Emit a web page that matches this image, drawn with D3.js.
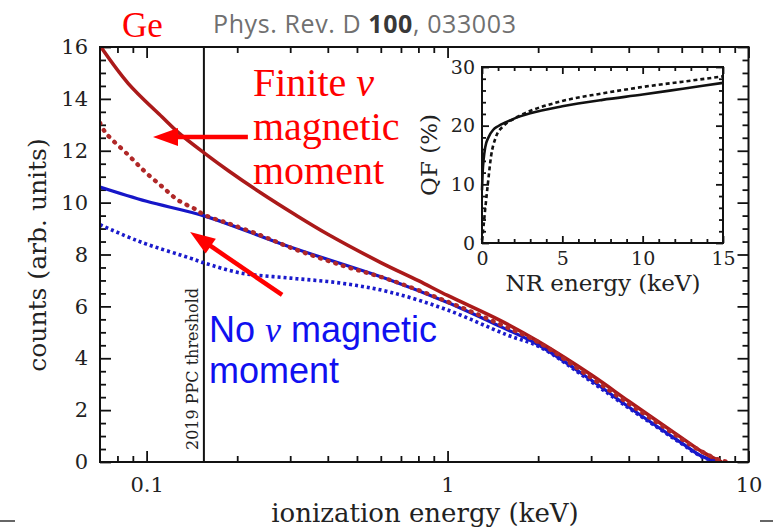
<!doctype html>
<html lang="en">
	<head>
		<meta charset="utf-8" />
		<title>Ge counts vs ionization energy</title>
		<script type="text/javascript" src="https://cdn.jsdelivr.net/npm/d3@7"></script>
		<style>
			body { margin: 0; background: #fff; }
			svg { display: block; }
		</style>
	</head>

	<body>
		<script type="text/javascript">
			// main panel: counts (arb. units) vs ionization energy (keV)
			var redSolidE = [0.07, 0.0868, 0.1126, 0.129, 0.156, 0.187, 0.24, 0.31, 0.4, 0.6, 0.8, 1.0, 1.5, 2, 3, 4, 5, 6, 7, 8, 8.15];
			var redSolidC = [16.05, 14.6, 13.3, 12.65, 11.9, 11.23, 10.37, 9.55, 8.78, 7.69, 6.99, 6.42, 5.45, 4.65, 3.36, 2.34, 1.56, 0.93, 0.4, 0.04, 0];

			var redDotE = [0.07, 0.073, 0.087, 0.099, 0.113, 0.127, 0.145, 0.156, 0.187, 0.242, 0.3, 0.44, 0.644, 1, 1.5, 2, 3, 4, 5, 6, 7, 8, 8.6];
			var redDotC = [13.07, 12.7, 11.83, 11.18, 10.6, 10.1, 9.75, 9.52, 9.2, 8.72, 8.27, 7.6, 7.02, 6.18, 5.3, 4.62, 3.25, 2.25, 1.5, 0.88, 0.4, 0.08, 0];

			var blueSolidE = [0.07, 0.1, 0.156, 0.3, 0.644, 1, 1.5, 2, 3, 4, 5, 6, 7, 7.9];
			var blueSolidC = [10.6, 10.05, 9.48, 8.29, 7.02, 6.15, 5.22, 4.52, 3.16, 2.12, 1.35, 0.73, 0.22, 0];

			var blueDotE = [0.07, 0.087, 0.1, 0.1395, 0.156, 0.2045, 0.3, 0.44, 0.644, 1, 1.576, 2.03, 3, 4, 5, 6, 7, 7.9];
			var blueDotC = [9.15, 8.67, 8.4, 7.86, 7.67, 7.29, 7.09, 6.9, 6.55, 5.86, 4.9, 4.43, 3.1, 2.08, 1.32, 0.7, 0.2, 0];

			var xMajor = [0.1, 1, 10];
			var xMinor = [0.08, 0.09, 0.2, 0.3, 0.4, 0.5, 0.6, 0.7, 0.8, 0.9, 2, 3, 4, 5, 6, 7, 8, 9];
			var yMajor = [0, 2, 4, 6, 8, 10, 12, 14, 16];
			var threshold = 0.155;

			// inset: quenching factor vs NR energy
			var qfSolidE = [0, 0.05, 0.1, 0.2, 0.4, 0.7, 1, 1.5, 2, 3, 5, 7.5, 10, 12.5, 15];
			var qfSolidV = [9, 12.5, 14.2, 16.3, 18, 19.3, 19.9, 20.6, 21.2, 22.1, 23.3, 24.4, 25.3, 26.3, 27.3];
			var qfDotE = [0, 0.1, 0.2, 0.37, 0.56, 0.87, 1.32, 2, 2.57, 5, 7.5, 10, 12.5, 15];
			var qfDotV = [0.5, 3, 5.8, 10.2, 14.7, 18.1, 19.9, 21.2, 22, 24.2, 25.5, 26.6, 27.5, 28.4];
			var qfXMajor = [0, 5, 10, 15];
			var qfYMajor = [0, 10, 20, 30];

			var w = 773;
			var h = 529;
			var serif = "DejaVu Serif";

			var svg = d3.select("body")
				.append("svg")
				.attr("width", w)
				.attr("height", h);

			var x = d3.scaleLog().domain([0.07, 10]).range([100, 748.5]);
			var y = d3.scaleLinear().domain([0, 16]).range([462, 47]);

			function zip(a, b) {
				return a.map(function(v, i) { return [v, b[i]]; });
			}

			svg.append("clipPath").attr("id", "plotclip")
				.append("rect")
				.attr("x", x.range()[0]).attr("y", y.range()[1])
				.attr("width", x.range()[1] - x.range()[0])
				.attr("height", y.range()[0] - y.range()[1]);

			// axes with inward ticks on all sides
			function styleAxis(g) {
				g.select(".domain").remove();
				g.selectAll("line").attr("stroke", "#111").attr("stroke-width", 1.8);
				g.selectAll("text").attr("font-family", serif).attr("fill", "#222");
			}

			var yMinor = d3.range(0, 16.01, 0.5).filter(function(v) { return v % 2 !== 0; });

			svg.append("g").attr("transform", "translate(0," + y(0) + ")")
				.call(d3.axisBottom(x).tickValues(xMajor).tickSize(-11).tickPadding(15)
					.tickFormat(function(d) { return d < 1 ? d.toFixed(1) : d; }))
				.call(styleAxis)
				.selectAll("text").attr("font-size", 21);
			svg.append("g").attr("transform", "translate(0," + y(0) + ")")
				.call(d3.axisBottom(x).tickValues(xMinor).tickSize(-6).tickFormat(""))
				.call(styleAxis);
			svg.append("g").attr("transform", "translate(0," + y(16) + ")")
				.call(d3.axisTop(x).tickValues(xMajor).tickSize(-11).tickFormat(""))
				.call(styleAxis);
			svg.append("g").attr("transform", "translate(0," + y(16) + ")")
				.call(d3.axisTop(x).tickValues(xMinor).tickSize(-6).tickFormat(""))
				.call(styleAxis);

			svg.append("g").attr("transform", "translate(" + x.range()[0] + ",0)")
				.call(d3.axisLeft(y).tickValues(yMajor).tickSize(-11).tickPadding(12))
				.call(styleAxis)
				.selectAll("text").attr("font-size", 21);
			svg.append("g").attr("transform", "translate(" + x.range()[0] + ",0)")
				.call(d3.axisLeft(y).tickValues(yMinor).tickSize(-6).tickFormat(""))
				.call(styleAxis);
			svg.append("g").attr("transform", "translate(" + x.range()[1] + ",0)")
				.call(d3.axisRight(y).tickValues(yMajor).tickSize(-11).tickFormat(""))
				.call(styleAxis);
			svg.append("g").attr("transform", "translate(" + x.range()[1] + ",0)")
				.call(d3.axisRight(y).tickValues(yMinor).tickSize(-6).tickFormat(""))
				.call(styleAxis);

			// threshold line
			svg.append("line")
				.attr("x1", x(threshold)).attr("x2", x(threshold))
				.attr("y1", y(16)).attr("y2", y(0))
				.attr("stroke", "#111").attr("stroke-width", 2);
			svg.append("text")
				.attr("transform", "translate(" + (x(threshold) - 6) + "," + (y(0) - 12) + ") rotate(-90)")
				.attr("font-family", serif).attr("font-size", 16).attr("fill", "#222")
				.text("2019 PPC threshold");

			// curves
			var line = d3.line()
				.x(function(d) { return x(d[0]); })
				.y(function(d) { return y(d[1]); })
				.curve(d3.curveCatmullRom.alpha(0.5));

			var curves = svg.append("g").attr("clip-path", "url(#plotclip)");
			curves.append("path").datum(zip(blueSolidE, blueSolidC))
				.attr("d", line).attr("fill", "none")
				.attr("stroke", "#1616c8").attr("stroke-width", 3.2);
			curves.append("path").datum(zip(redSolidE, redSolidC))
				.attr("d", line).attr("fill", "none")
				.attr("stroke", "#ab1a1a").attr("stroke-width", 3.6);
			curves.append("path").datum(zip(blueDotE, blueDotC))
				.attr("d", line).attr("fill", "none")
				.attr("stroke", "#1a1acc").attr("stroke-width", 3.6)
				.attr("stroke-dasharray", "3 3");
			curves.append("path").datum(zip(redDotE, redDotC))
				.attr("d", line).attr("fill", "none")
				.attr("stroke", "#b02828").attr("stroke-width", 4.4)
				.attr("stroke-linecap", "round")
				.attr("stroke-dasharray", "0.8 7.2");

			// frame
			svg.append("rect")
				.attr("x", x.range()[0]).attr("y", y.range()[1])
				.attr("width", x.range()[1] - x.range()[0])
				.attr("height", y.range()[0] - y.range()[1])
				.attr("fill", "none").attr("stroke", "#111").attr("stroke-width", 2);

			// axis titles
			svg.append("text")
				.attr("transform", "translate(46,255) rotate(-90)")
				.attr("text-anchor", "middle")
				.attr("font-family", serif).attr("font-size", 25).attr("fill", "#222")
				.text("counts (arb. units)");
			svg.append("text")
				.attr("x", 425).attr("y", 522)
				.attr("text-anchor", "middle")
				.attr("font-family", serif).attr("font-size", 26).attr("fill", "#222")
				.text("ionization energy (keV)");

			// inset
			var xi = d3.scaleLinear().domain([0, 15]).range([482, 723]);
			var yi = d3.scaleLinear().domain([0, 30]).range([243, 67]);
			var qfXMinor = d3.range(0, 16).filter(function(v) { return v % 5 !== 0; });
			var qfYMinor = d3.range(0, 31, 2).filter(function(v) { return v % 10 !== 0; });

			svg.append("g").attr("transform", "translate(0," + yi(0) + ")")
				.call(d3.axisBottom(xi).tickValues(qfXMajor).tickSize(-7).tickPadding(9))
				.call(styleAxis)
				.selectAll("text").attr("font-size", 19);
			svg.append("g").attr("transform", "translate(0," + yi(0) + ")")
				.call(d3.axisBottom(xi).tickValues(qfXMinor).tickSize(-4).tickFormat(""))
				.call(styleAxis);
			svg.append("g").attr("transform", "translate(0," + yi(30) + ")")
				.call(d3.axisTop(xi).tickValues(qfXMajor).tickSize(-7).tickFormat(""))
				.call(styleAxis);
			svg.append("g").attr("transform", "translate(0," + yi(30) + ")")
				.call(d3.axisTop(xi).tickValues(qfXMinor).tickSize(-4).tickFormat(""))
				.call(styleAxis);
			svg.append("g").attr("transform", "translate(" + xi(0) + ",0)")
				.call(d3.axisLeft(yi).tickValues(qfYMajor).tickSize(-7).tickPadding(7))
				.call(styleAxis)
				.selectAll("text").attr("font-size", 19);
			svg.append("g").attr("transform", "translate(" + xi(0) + ",0)")
				.call(d3.axisLeft(yi).tickValues(qfYMinor).tickSize(-4).tickFormat(""))
				.call(styleAxis);
			svg.append("g").attr("transform", "translate(" + xi(15) + ",0)")
				.call(d3.axisRight(yi).tickValues(qfYMajor).tickSize(-7).tickFormat(""))
				.call(styleAxis);
			svg.append("g").attr("transform", "translate(" + xi(15) + ",0)")
				.call(d3.axisRight(yi).tickValues(qfYMinor).tickSize(-4).tickFormat(""))
				.call(styleAxis);

			var iline = d3.line()
				.x(function(d) { return xi(d[0]); })
				.y(function(d) { return yi(d[1]); })
				.curve(d3.curveMonotoneX);
			svg.append("path").datum(zip(qfSolidE, qfSolidV))
				.attr("d", iline).attr("fill", "none")
				.attr("stroke", "#111").attr("stroke-width", 2.6);
			svg.append("path").datum(zip(qfDotE, qfDotV))
				.attr("d", iline).attr("fill", "none")
				.attr("stroke", "#111").attr("stroke-width", 2.6)
				.attr("stroke-dasharray", "4 3");

			svg.append("rect")
				.attr("x", xi(0)).attr("y", yi(30))
				.attr("width", xi(15) - xi(0)).attr("height", yi(0) - yi(30))
				.attr("fill", "none").attr("stroke", "#111").attr("stroke-width", 2);

			svg.append("text")
				.attr("x", 603).attr("y", 291)
				.attr("text-anchor", "middle")
				.attr("font-family", serif).attr("font-size", 23).attr("fill", "#222")
				.text("NR energy (keV)");
			svg.append("text")
				.attr("transform", "translate(437,155) rotate(-90)")
				.attr("text-anchor", "middle")
				.attr("font-family", serif).attr("font-size", 23).attr("fill", "#222")
				.text("QF (%)");

			// annotations
			svg.append("text")
				.attr("x", 122).attr("y", 37)
				.attr("font-family", "Liberation Serif").attr("font-size", 35).attr("fill", "#f00")
				.text("Ge");

			var ref = svg.append("text")
				.attr("x", 213).attr("y", 33)
				.attr("font-family", "Open Sans").attr("font-size", 25)
				.attr("letter-spacing", 0.6).attr("fill", "#707070");
			ref.append("tspan").text("Phys. Rev. D ");
			ref.append("tspan").attr("font-weight", "bold").attr("fill", "#383838").text("100");
			ref.append("tspan").text(", 033003");

			var finite = svg.append("text")
				.attr("font-family", "Liberation Serif").attr("font-size", 40).attr("fill", "#f00");
			var finiteLine1 = finite.append("tspan").attr("x", 253).attr("y", 96);
			finiteLine1.append("tspan").text("Finite ");
			finiteLine1.append("tspan").attr("font-style", "italic").text("ν");
			finite.append("tspan").attr("x", 253).attr("y", 140).text("magnetic");
			finite.append("tspan").attr("x", 253).attr("y", 184).text("moment");

			var noMM = svg.append("text")
				.attr("font-family", "Liberation Sans").attr("font-size", 36).attr("fill", "#1010f0");
			var noLine1 = noMM.append("tspan").attr("x", 209).attr("y", 342);
			noLine1.append("tspan").text("No ");
			noLine1.append("tspan").attr("font-family", "Liberation Serif").attr("font-style", "italic").text("ν");
			noLine1.append("tspan").text(" magnetic");
			noMM.append("tspan").attr("x", 209).attr("y", 383).text("moment");

			// arrows, given in data coordinates: [tailE, tailC, tipE, tipC]
			var arrows = [[0.217, 12.53, 0.105, 12.53], [0.282, 6.44, 0.1395, 8.87]];
			arrows.forEach(function(a) {
				var x0 = x(a[0]), y0 = y(a[1]), x1 = x(a[2]), y1 = y(a[3]);
				var len = Math.hypot(x1 - x0, y1 - y0);
				var ux = (x1 - x0) / len, uy = (y1 - y0) / len;
				var hl = 25, hw = 9;
				var bx = x1 - ux * hl, by = y1 - uy * hl;
				svg.append("line")
					.attr("x1", x0).attr("y1", y0).attr("x2", bx + ux * 2).attr("y2", by + uy * 2)
					.attr("stroke", "#f00").attr("stroke-width", 4.5);
				svg.append("path")
					.attr("d", "M" + x1 + "," + y1 +
						"L" + (bx - uy * hw) + "," + (by + ux * hw) +
						"L" + (bx + uy * hw) + "," + (by - ux * hw) + "Z")
					.attr("fill", "#f00");
			});

			// page edge marks
			svg.append("line").attr("x1", 0).attr("x2", 15).attr("y1", 521).attr("y2", 521)
				.attr("stroke", "#333").attr("stroke-width", 1.5);
			svg.append("line").attr("x1", 760).attr("x2", 773).attr("y1", 521).attr("y2", 521)
				.attr("stroke", "#333").attr("stroke-width", 1.5);
		</script>
</body>
</html>
